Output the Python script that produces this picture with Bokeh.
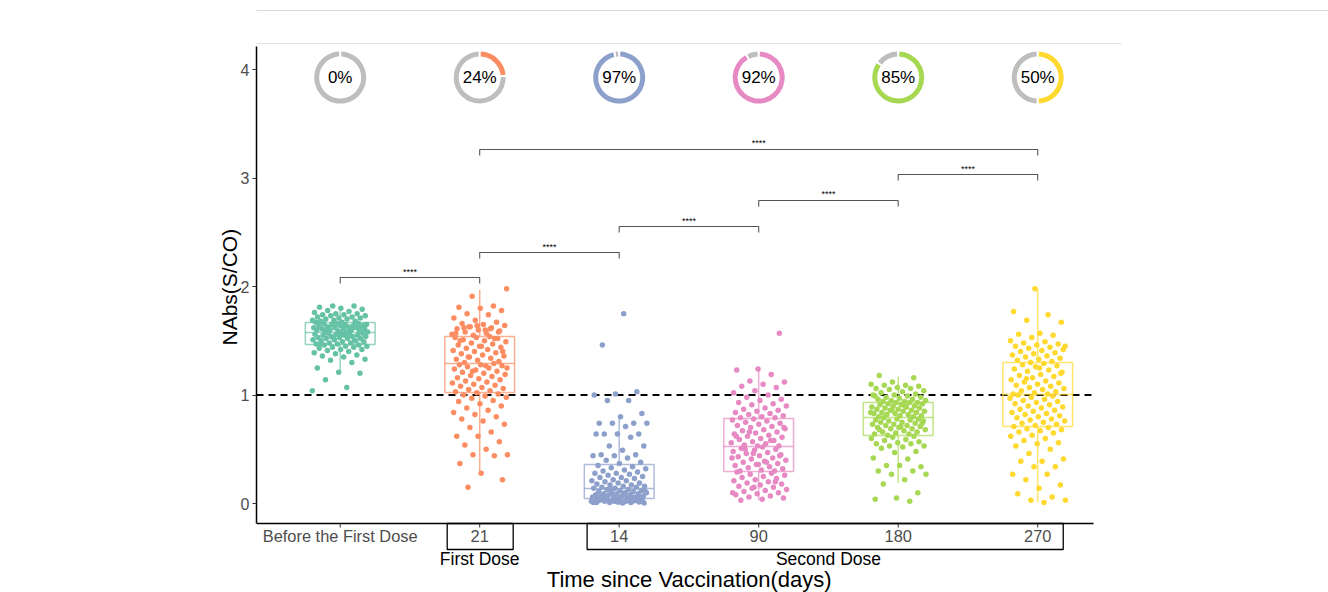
import numpy as np
from bokeh.plotting import figure
from bokeh.models import (FixedTicker, LinearAxis, Range1d, ColumnDataSource, Title)
from bokeh.embed import file_html
from bokeh.resources import INLINE
from bokeh.core.properties import value

# ---------------- data ----------------
groups = ["Before the First Dose", "21", "14", "90", "180", "270"]
dose_names = ["First Dose", "Second Dose"]
dose_center = [2.0, 4.5]
dose_box_left = [1.767, 2.77]
dose_box_right = [2.24, 6.183]
colors = ["#66C2A5", "#FC8D62", "#8DA0CB", "#E78AC3", "#A6D854", "#FFD92F"]
positive_pct = [0, 24, 97, 92, 85, 50]

q1 = [1.465, 1.023, 0.046, 0.295, 0.627, 0.710]
median = [1.576, 1.290, 0.138, 0.525, 0.793, 1.005]
q3 = [1.668, 1.539, 0.359, 0.783, 0.931, 1.300]
whisk_lo = [1.198, 0.276, 0.010, 0.030, 0.190, 0.010]
whisk_hi = [1.806, 1.970, 0.790, 1.235, 1.170, 1.980]

comp_from = [1, 2, 3, 4, 5, 2]
comp_to = [2, 3, 4, 5, 6, 6]
bracket_y = [2.083, 2.313, 2.553, 2.793, 3.032, 3.263]
sig_labels = ["****", "****", "****", "****", "****", "****"]
cutoff = 1.0

nabs_before = [1.04, 1.07, 1.14, 1.20, 1.21, 1.25, 1.30, 1.32, 1.33, 1.35, 1.36, 1.37, 1.38, 1.39,
               1.40, 1.41, 1.42, 1.42, 1.43, 1.44, 1.44, 1.45, 1.45, 1.46, 1.46,
               1.47, 1.47, 1.48, 1.48, 1.49, 1.49, 1.50, 1.50, 1.51, 1.51, 1.52, 1.52, 1.52, 1.53,
               1.53, 1.54, 1.54, 1.54, 1.55, 1.55, 1.55, 1.56, 1.56, 1.56, 1.57, 1.57, 1.57, 1.47,
               1.50, 1.53,
               1.58, 1.58, 1.59, 1.59, 1.59, 1.60, 1.60, 1.60, 1.61, 1.61, 1.61, 1.62, 1.62, 1.62,
               1.63, 1.63, 1.63, 1.64, 1.64, 1.64, 1.65, 1.65, 1.65, 1.66, 1.66, 1.66, 1.67, 1.60,
               1.62, 1.64,
               1.67, 1.68, 1.68, 1.69, 1.69, 1.70, 1.70, 1.71, 1.71, 1.72, 1.72, 1.73, 1.73, 1.74,
               1.74, 1.75, 1.75, 1.76, 1.77, 1.78, 1.79, 1.80, 1.81, 1.82, 1.82]
nabs_first21 = [0.15, 0.22, 0.28, 0.37, 0.44, 0.45, 0.45, 0.50, 0.54, 0.57, 0.62, 0.62, 0.66, 0.70,
                0.73, 0.76, 0.78, 0.80, 0.82, 0.84, 0.86, 0.88, 0.90, 0.92, 0.94, 0.95, 0.97, 0.98,
                0.99, 1.00, 1.01, 1.02,
                1.03, 1.04, 1.05, 1.06, 1.07, 1.08, 1.09, 1.10, 1.11, 1.12, 1.13, 1.14, 1.15, 1.16,
                1.17, 1.18, 1.19, 1.20, 1.21, 1.22, 1.23, 1.24, 1.25, 1.26, 1.27, 1.28, 1.28, 1.29,
                1.22, 1.25, 1.27,
                1.30, 1.31, 1.32, 1.33, 1.34, 1.35, 1.36, 1.37, 1.38, 1.39, 1.40, 1.41, 1.42, 1.43,
                1.44, 1.45, 1.46, 1.47, 1.48, 1.49, 1.50, 1.51, 1.52, 1.53, 1.53, 1.54, 1.35, 1.40,
                1.45, 1.50, 1.52,
                1.55, 1.56, 1.57, 1.58, 1.59, 1.60, 1.61, 1.62, 1.63, 1.64, 1.65, 1.66, 1.67, 1.69,
                1.71, 1.74, 1.75, 1.78, 1.80, 1.81, 1.82, 1.91, 1.98, 1.60, 1.62, 1.58, 1.64, 1.57,
                1.61, 1.63]
nabs_second14 = [1.75, 1.46, 1.03, 1.01, 1.00, 0.95, 0.95, 0.83, 0.80, 0.74, 0.74, 0.74, 0.74, 0.71,
                 0.64, 0.64, 0.64, 0.64, 0.61, 0.53, 0.53, 0.49, 0.45, 0.45, 0.44, 0.44, 0.42, 0.40,
                 0.38, 0.37,
                 0.35, 0.34, 0.33, 0.32, 0.31, 0.30, 0.29, 0.28, 0.28, 0.27, 0.26, 0.25, 0.24, 0.24,
                 0.23, 0.22, 0.21, 0.21, 0.20, 0.19, 0.19, 0.18, 0.17, 0.17, 0.16, 0.16, 0.15, 0.15,
                 0.14, 0.14,
                 0.13, 0.13, 0.12, 0.12, 0.11, 0.11, 0.10, 0.10, 0.10, 0.09, 0.09, 0.09, 0.08, 0.08,
                 0.08, 0.07, 0.07, 0.07, 0.06, 0.06, 0.06, 0.06, 0.05, 0.05, 0.05, 0.05, 0.05, 0.13,
                 0.11, 0.09,
                 0.045, 0.04, 0.04, 0.04, 0.035, 0.035, 0.03, 0.03, 0.03, 0.025, 0.025, 0.02, 0.02,
                 0.02, 0.015, 0.015, 0.01, 0.01, 0.01, 0.005, 0.005, 0.04, 0.03, 0.02, 0.01, 0.03,
                 0.04, 0.02, 0.015, 0.025]
nabs_second90 = [1.57, 1.24, 1.23, 1.19, 1.13, 1.12, 1.10, 1.08, 1.07, 1.04, 1.02, 1.00, 0.98, 0.96,
                 0.95, 0.93, 0.92, 0.91, 0.90, 0.88, 0.87, 0.86, 0.85, 0.84, 0.83, 0.82, 0.81, 0.80,
                 0.79, 0.79,
                 0.78, 0.77, 0.76, 0.75, 0.74, 0.73, 0.72, 0.71, 0.70, 0.69, 0.68, 0.67, 0.66, 0.65,
                 0.64, 0.63, 0.62, 0.61, 0.60, 0.59, 0.58, 0.57, 0.56, 0.55, 0.54, 0.53, 0.53, 0.62,
                 0.58, 0.66, 0.70,
                 0.52, 0.51, 0.50, 0.49, 0.48, 0.47, 0.46, 0.45, 0.44, 0.43, 0.42, 0.41, 0.40, 0.39,
                 0.38, 0.37, 0.36, 0.35, 0.34, 0.33, 0.32, 0.31, 0.30, 0.30, 0.46, 0.42, 0.38, 0.50,
                 0.44, 0.36,
                 0.29, 0.28, 0.27, 0.26, 0.25, 0.24, 0.23, 0.22, 0.21, 0.20, 0.19, 0.18, 0.17, 0.16,
                 0.15, 0.14, 0.13, 0.12, 0.11, 0.10, 0.09, 0.08, 0.07, 0.06, 0.05, 0.04, 0.03, 0.20,
                 0.15, 0.10]
nabs_second180 = [1.18, 1.16, 1.12, 1.10, 1.09, 1.09, 1.08, 1.07, 1.06, 1.06, 1.05, 1.04, 1.03, 1.02,
                  1.01, 1.00, 1.00, 0.99, 0.98, 0.98, 0.97, 0.96, 0.96, 0.95, 0.95, 0.94, 0.94, 0.93,
                  0.93, 0.99,
                  0.93, 0.92, 0.92, 0.91, 0.91, 0.90, 0.90, 0.89, 0.89, 0.88, 0.88, 0.87, 0.87, 0.86,
                  0.86, 0.85, 0.85, 0.84, 0.84, 0.83, 0.83, 0.82, 0.82, 0.81, 0.81, 0.80, 0.80, 0.86,
                  0.84, 0.90,
                  0.79, 0.78, 0.78, 0.77, 0.77, 0.76, 0.76, 0.75, 0.75, 0.74, 0.73, 0.73, 0.72, 0.72,
                  0.71, 0.70, 0.70, 0.69, 0.69, 0.68, 0.67, 0.66, 0.66, 0.65, 0.64, 0.64, 0.63, 0.74,
                  0.71, 0.68,
                  0.62, 0.61, 0.60, 0.59, 0.58, 0.57, 0.56, 0.55, 0.55, 0.53, 0.53, 0.52, 0.51, 0.48,
                  0.47, 0.42, 0.41, 0.35, 0.34, 0.35, 0.30, 0.30, 0.27, 0.27, 0.22, 0.18, 0.10, 0.05,
                  0.04, 0.02]
nabs_second270 = [1.98, 1.77, 1.74, 1.69, 1.67, 1.57, 1.56, 1.55, 1.53, 1.50, 1.49, 1.48, 1.47, 1.46,
                  1.45, 1.44, 1.43, 1.42, 1.41, 1.40, 1.39, 1.38, 1.37, 1.36, 1.35, 1.34, 1.33, 1.32,
                  1.31, 1.30, 1.45,
                  1.29, 1.28, 1.27, 1.26, 1.24, 1.23, 1.22, 1.21, 1.19, 1.18, 1.17, 1.16, 1.14, 1.13,
                  1.12, 1.11, 1.10, 1.09, 1.08, 1.07, 1.06, 1.05, 1.04, 1.03, 1.02, 1.01, 1.01, 1.15,
                  1.20, 1.25,
                  1.00, 0.99, 0.98, 0.97, 0.96, 0.95, 0.94, 0.93, 0.92, 0.91, 0.90, 0.89, 0.88, 0.87,
                  0.86, 0.85, 0.84, 0.83, 0.82, 0.81, 0.80, 0.79, 0.78, 0.77, 0.76, 0.75, 0.74, 0.73,
                  0.72, 0.71,
                  0.70, 0.69, 0.68, 0.67, 0.66, 0.65, 0.63, 0.62, 0.60, 0.58, 0.56, 0.55, 0.53, 0.50,
                  0.46, 0.41, 0.39, 0.39, 0.34, 0.34, 0.27, 0.27, 0.22, 0.17, 0.14, 0.09, 0.06, 0.03,
                  0.03, 0.01]
group_values = [nabs_before, nabs_first21, nabs_second14, nabs_second90, nabs_second180, nabs_second270]

# ---------------- layout constants ----------------
FONT = "Liberation Sans"
X_LO, X_HI = 0.4, 6.4          # panel extent (discrete axis)
Y_LO, Y_HI = -0.184, 4.212     # panel extent (value axis)
PX_X = 139.5                   # pixels per group
PX_Y = 108.5                   # pixels per NAbs unit
W, H = 1328, 592
FRAME_LEFT, PANEL_TOP, PANEL_BOTTOM = 256, 46, 523

x_range = Range1d(X_LO, X_LO + (W - FRAME_LEFT) / PX_X)
y_range = Range1d(Y_LO - (H - PANEL_BOTTOM) / PX_Y, Y_HI + PANEL_TOP / PX_Y)

p = figure(width=W, height=H, x_range=x_range, y_range=y_range,
           output_backend="svg", toolbar_location=None, x_axis_type=None, y_axis_type=None,
           min_border_left=FRAME_LEFT, min_border_right=0, min_border_top=0, min_border_bottom=0)
p.grid.visible = False
p.outline_line_color = None
p.background_fill_color = "white"
p.border_fill_color = "white"

pos = np.arange(1, len(groups) + 1, dtype=float)

# y axis (bokeh axis, limited to panel)
yax = LinearAxis(ticker=FixedTicker(ticks=[0, 1, 2, 3, 4]), bounds=(Y_LO, Y_HI))
yax.axis_line_color = "black"
yax.axis_line_width = 1.5
yax.major_tick_line_color = "#333333"
yax.major_tick_out = 4
yax.major_tick_in = 0
yax.minor_tick_line_color = None
yax.major_label_text_font = FONT
yax.major_label_text_font_size = "16px"
yax.major_label_text_color = "#4D4D4D"
yax.major_label_standoff = 3
p.add_layout(yax, "left")
p.add_layout(Title(text="NAbs(S/CO)", align="left", offset=247, standoff=-6,
                   text_font=FONT, text_font_size="21px", text_font_style="normal",
                   text_color="black"), "left")

# faint frame lines of the original figure
p.segment(x0=X_LO - 2, y0=Y_HI + 36 / PX_Y, x1=X_HI + 3, y1=Y_HI + 36 / PX_Y,
          line_color="#D9D9D9", line_width=1)
p.segment(x0=X_LO - 1, y0=Y_HI + 3 / PX_Y, x1=X_HI + 0.2, y1=Y_HI + 3 / PX_Y,
          line_color="#E3E3E3", line_width=1)

# x axis drawn in data space
p.segment(x0=X_LO, y0=Y_LO, x1=X_HI, y1=Y_LO, line_color="black", line_width=1.5)
p.segment(x0=pos, y0=Y_LO, x1=pos, y1=Y_LO - 4 / PX_Y, line_color="#333333", line_width=1)
p.text(x=pos, y=Y_LO, text=groups, y_offset=13, text_align="center", text_baseline="middle",
       text_font=value(FONT), text_font_size="16.4px", text_color="#4D4D4D")
p.quad(left=dose_box_left, right=dose_box_right, top=Y_LO, bottom=Y_LO - 26 / PX_Y,
       fill_alpha=0, line_color="black", line_width=1.3)
p.text(x=dose_center, y=Y_LO, text=dose_names, y_offset=36, text_align="center",
       text_baseline="middle", text_font=value(FONT), text_font_size="17.5px", text_color="black")
p.text(x=[3.502], y=[Y_LO], text=["Time since Vaccination(days)"], y_offset=56,
       text_align="center", text_baseline="middle", text_font=value(FONT),
       text_font_size="22px", text_color="black")

# cutoff line
p.segment(x0=X_LO, y0=cutoff, x1=X_HI, y1=cutoff, line_color="black", line_width=2,
          line_dash="7 5")

# boxplots
p.quad(left=pos - 0.25, right=pos + 0.25, bottom=q1, top=q3, fill_alpha=0,
       line_color=colors, line_width=1.5, line_alpha=0.7)
p.segment(x0=pos, y0=q3, x1=pos, y1=whisk_hi, line_color=colors, line_width=1.5, line_alpha=0.7)
p.segment(x0=pos, y0=q1, x1=pos, y1=whisk_lo, line_color=colors, line_width=1.5, line_alpha=0.7)
p.segment(x0=pos - 0.25, y0=median, x1=pos + 0.25, y1=median, line_color=colors,
          line_width=1.5, line_alpha=0.7)

# jittered points (deterministic low-discrepancy jitter)
phi = 0.6180339887
for gi, vals in enumerate(group_values):
    n = len(vals)
    idx = np.arange(n)
    jit = 0.2 * (2 * ((idx * phi + gi * 0.29) % 1.0) - 1)
    src = ColumnDataSource(dict(x=pos[gi] + jit, y=vals))
    p.scatter("x", "y", source=src, size=5.5, fill_color=colors[gi], line_color=None)

# significance brackets
leg = 6 / PX_Y
xs, ys = [], []
for a, b, yb in zip(comp_from, comp_to, bracket_y):
    xs.append([a, a, b, b])
    ys.append([yb - leg, yb, yb, yb - leg])
p.multi_line(xs, ys, line_color="#555555", line_width=1.1)
p.text(x=[(a + b) / 2 for a, b in zip(comp_from, comp_to)], y=bracket_y, text=sig_labels,
       text_align="center", text_baseline="alphabetic", y_offset=-6,
       text_font=value(FONT), text_font_size="9px", text_color="black")

# donut rings with positive rate
ring_y = 3.926
gap = 0.045
pct = np.array(positive_pct) / 100.0
ang_split = np.pi / 2 - 2 * np.pi * pct
p.annular_wedge(x=pos, y=ring_y, inner_radius=21, outer_radius=26,
                inner_radius_units="screen", outer_radius_units="screen",
                start_angle=ang_split - gap, end_angle=np.pi / 2 - 2 * np.pi + gap,
                direction="clock", fill_color="#BEBEBE", line_color=None)
mask = pct > 0
p.annular_wedge(x=pos[mask], y=ring_y, inner_radius=21, outer_radius=26,
                inner_radius_units="screen", outer_radius_units="screen",
                start_angle=np.pi / 2 - gap, end_angle=ang_split[mask] + gap,
                direction="clock", fill_color=[c for c, m in zip(colors, mask) if m],
                line_color=None)
p.text(x=pos, y=ring_y, text=[f"{v}%" for v in positive_pct], text_align="center",
       text_baseline="middle", text_font=value(FONT), text_font_size="17px", text_color="black")

open("out.html", "w").write(file_html(p, INLINE))
